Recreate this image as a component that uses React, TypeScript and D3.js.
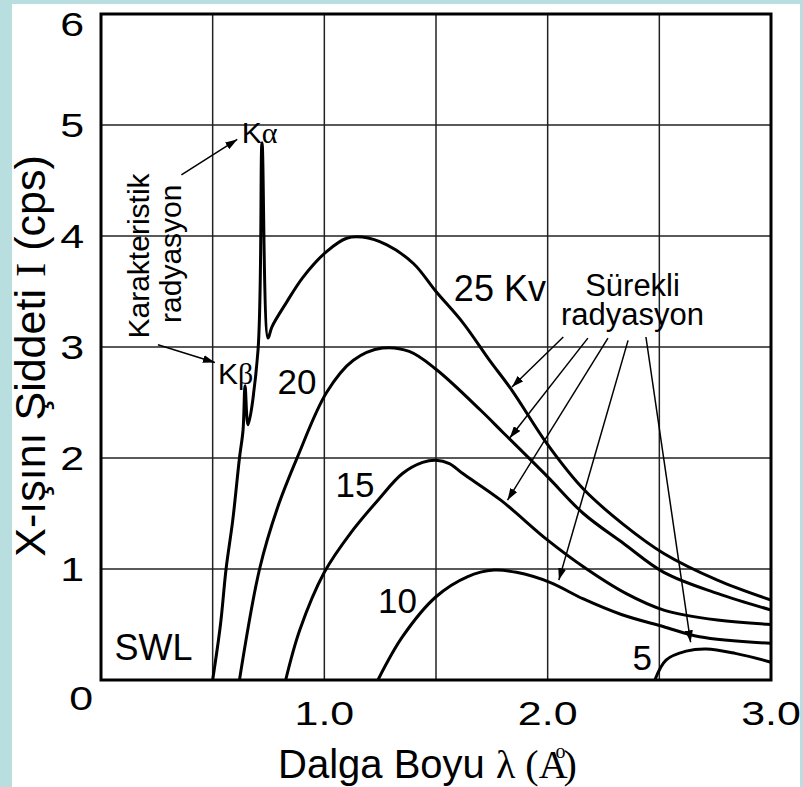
import React from "react";
import * as d3 from "d3";

// spectra: [wavelength (Å), intensity]
const kv25 = [
  [0.5, 0], [0.535, 0.5], [0.56, 1.0], [0.59, 1.44], [0.62, 2.0], [0.636, 2.25],
  [0.645, 2.65], [0.658, 2.3], [0.703, 2.97], [0.721, 4.84], [0.748, 3.08],
  [0.765, 3.18], [0.83, 3.4], [0.905, 3.63], [1.01, 3.86], [1.1, 3.98], [1.17, 3.99],
  [1.28, 3.92], [1.4, 3.75], [1.5, 3.5], [1.62, 3.22], [1.74, 2.88], [1.84, 2.61],
  [2.0, 2.12], [2.16, 1.72], [2.34, 1.4], [2.52, 1.14], [2.76, 0.9], [3.0, 0.72],
];
const kv20 = [
  [0.62, 0], [0.71, 1.0], [0.79, 1.55], [0.88, 2.01], [1.01, 2.59], [1.13, 2.88],
  [1.26, 2.99], [1.38, 2.96], [1.5, 2.8], [1.7, 2.43], [1.8, 2.23],
  [2.0, 1.83], [2.16, 1.5], [2.34, 1.23], [2.52, 0.97], [2.76, 0.78], [3.0, 0.63],
];
const kv15 = [
  [0.827, 0], [0.89, 0.45], [1.0, 0.97], [1.12, 1.33], [1.24, 1.62], [1.35, 1.86],
  [1.44, 1.96], [1.5, 1.98], [1.56, 1.95], [1.62, 1.86], [1.79, 1.62], [2.0, 1.26],
  [2.16, 1.02], [2.35, 0.78], [2.52, 0.63], [2.76, 0.54], [3.0, 0.5],
];
const kv10 = [
  [1.24, 0], [1.35, 0.39], [1.5, 0.75], [1.64, 0.93], [1.76, 0.99], [1.86, 0.97],
  [2.01, 0.88], [2.16, 0.73], [2.33, 0.59], [2.52, 0.48], [2.68, 0.39], [3.0, 0.33],
];
const kv5 = [
  [2.48, 0], [2.53, 0.18], [2.62, 0.26], [2.71, 0.28], [2.84, 0.24], [3.0, 0.16],
];
const curves = [kv25, kv20, kv15, kv10, kv5];

const xTicks = [1.0, 2.0, 3.0];
const yTicks = [0, 1, 2, 3, 4, 5, 6];
const xGrid = [0.5, 1.0, 1.5, 2.0, 2.5];
const yGrid = [1, 2, 3, 4, 5];

// curve labels [λ, I, text]
const curveLabels = [
  [1.58, 3.41, "25 Kv"],
  [0.79, 2.58, "20"],
  [1.05, 1.65, "15"],
  [1.24, 0.6, "10"],
  [2.38, 0.09, "5"],
];

// "Sürekli radyasyon" arrows: [from λ, from I, to λ, to I]
const contArrows = [
  [2.07, 3.09, 1.84, 2.64],
  [2.18, 3.08, 1.83, 2.18],
  [2.27, 3.08, 1.82, 1.62],
  [2.36, 3.06, 2.05, 0.9],
  [2.44, 3.09, 2.64, 0.34],
];
const charArrows = [
  [0.36, 4.55, 0.61, 4.87],
  [0.255, 3.02, 0.51, 2.86],
];

const W = 803;
const H = 787;
const sans = "'Liberation Sans', Arial, sans-serif";
const serif = "'Liberation Serif', 'Times New Roman', serif";

export default function App() {
  const x = d3.scaleLinear().domain([0, 3]).range([101, 771]);
  const y = d3.scaleLinear().domain([0, 6]).range([680, 14]);
  const line = d3
    .line<number[]>()
    .x((d) => x(d[0]))
    .y((d) => y(d[1]))
    .curve(d3.curveCatmullRom.alpha(0.5));

  return (
    <svg
      width={W}
      height={H}
      style={{ position: "absolute", left: 0, top: 0 }}
    >
      <defs>
        <marker
          id="head"
          viewBox="0 0 12 8"
          refX="12"
          refY="4"
          markerWidth="12"
          markerHeight="8"
          markerUnits="userSpaceOnUse"
          orient="auto"
        >
          <path d="M0,0 L12,4 L0,8 Z" fill="#000" />
        </marker>
      </defs>
      <rect x={0} y={0} width={W} height={H} fill="#b8dee0" />
      <rect x={12} y={4} width={788} height={H - 4} fill="#fff" />

      {/* grid */}
      {xGrid.map((g) => (
        <line key={"gx" + g} x1={x(g)} x2={x(g)} y1={y(0)} y2={y(6)} stroke="#222" strokeWidth={1.5} />
      ))}
      {yGrid.map((g) => (
        <line key={"gy" + g} x1={x(0)} x2={x(3)} y1={y(g)} y2={y(g)} stroke="#222" strokeWidth={1.5} />
      ))}
      <rect
        x={x(0)}
        y={y(6)}
        width={x(3) - x(0)}
        height={y(0) - y(6)}
        fill="none"
        stroke="#000"
        strokeWidth={3}
      />

      {/* spectra */}
      {curves.map((c, i) => (
        <path key={"c" + i} d={line(c as any) || ""} fill="none" stroke="#000" strokeWidth={3} strokeLinejoin="round" />
      ))}

      {/* arrows */}
      {contArrows.concat(charArrows).map((a, i) => (
        <line
          key={"a" + i}
          x1={x(a[0])}
          y1={y(a[1])}
          x2={x(a[2])}
          y2={y(a[3])}
          stroke="#000"
          strokeWidth={1.5}
          markerEnd="url(#head)"
        />
      ))}

      {/* tick labels */}
      {yTicks.map((t) => {
        const dx = t === 0 ? 9 : 0;
        const dy = t === 0 ? 30 : t === 6 ? 22 : 12;
        return (
          <text
            key={"yt" + t}
            transform={`translate(${84 + dx},${y(t) + dy}) scale(1.3,1)`}
            textAnchor="end"
            fontFamily={sans}
            fontSize={33}
          >
            {t}
          </text>
        );
      })}
      {xTicks.map((t) => (
        <text
          key={"xt" + t}
          transform={`translate(${x(t)},725) scale(1.3,1)`}
          textAnchor="middle"
          fontFamily={sans}
          fontSize={33}
        >
          {t.toFixed(1)}
        </text>
      ))}

      {/* axis titles */}
      <text
        transform="translate(45,356) rotate(-90)"
        textAnchor="middle"
        fontFamily={sans}
        fontSize={43}
      >
        X-ışını Şiddeti <tspan fontFamily={serif}>I</tspan> (cps)
      </text>
      <text x={278} y={778} fontFamily={sans} fontSize={40}>
        Dalga Boyu{" "}
        <tspan fontFamily={serif}>λ (A</tspan>
        <tspan fontFamily={serif} fontSize={20} dx={-12} dy={-20}>o</tspan>
        <tspan fontFamily={serif} dx={-2} dy={20}>)</tspan>
      </text>

      {/* curve labels */}
      {curveLabels.map((l) => (
        <text
          key={"l" + l[2]}
          x={x(l[0] as number)}
          y={y(l[1] as number)}
          fontFamily={sans}
          fontSize={l[2] === "25 Kv" ? 36 : 35}
        >
          {l[2]}
        </text>
      ))}
      <text x={x(0.06)} y={y(0.18)} fontFamily={sans} fontSize={36}>SWL</text>

      {/* characteristic lines */}
      <text x={x(0.63)} y={y(4.84)} fontFamily={sans} fontSize={30}>
        K<tspan fontFamily={serif}>α</tspan>
      </text>
      <text x={x(0.524)} y={y(2.67)} fontFamily={sans} fontSize={30}>
        K<tspan fontFamily={serif}>β</tspan>
      </text>
      <text
        transform={`translate(149,${y(3.82)}) rotate(-90)`}
        textAnchor="middle"
        fontFamily={sans}
        fontSize={30}
      >
        Karakteristik
      </text>
      <text
        transform={`translate(181,${y(3.84)}) rotate(-90)`}
        textAnchor="middle"
        fontFamily={sans}
        fontSize={30}
      >
        radyasyon
      </text>

      {/* continuous radiation label */}
      <text x={x(2.38)} y={y(3.46)} textAnchor="middle" fontFamily={sans} fontSize={31}>
        Sürekli
      </text>
      <text x={x(2.38)} y={y(3.2)} textAnchor="middle" fontFamily={sans} fontSize={31}>
        radyasyon
      </text>
    </svg>
  );
}
